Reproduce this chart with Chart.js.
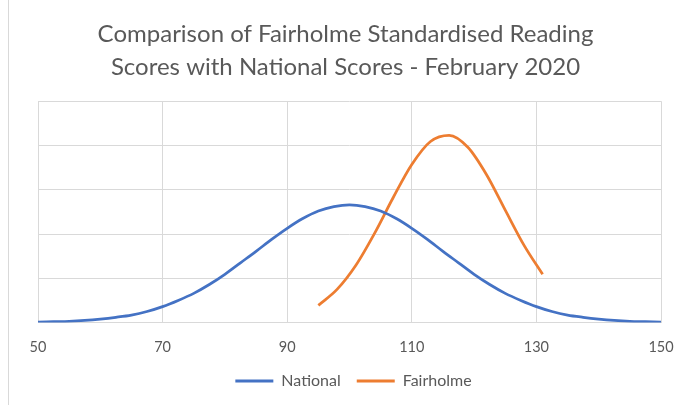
<!DOCTYPE html>
<html>
<head>
<meta charset="utf-8">
<script src="https://cdn.jsdelivr.net/npm/chart.js@4"></script>
<style>
    html, body { margin: 0; padding: 0; background: #fff; }
    #wrap { position: relative; width: 691px; height: 405px; }
    #edge { position: absolute; left: 8px; top: 0; width: 1px; height: 405px; background: #d9d9d9; }
    canvas { position: absolute; left: 0; top: 0; }
</style>
</head>
<body>
<div id="wrap">
    <div id="edge"></div>
    <canvas id="curveChart" width="691" height="405"></canvas>
</div>
<script>
// Chart data
const chartTitle = ['Comparison of Fairholme Standardised Reading', 'Scores with National Scores - February 2020'];
const xTicks = [50, 70, 90, 110, 130, 150];

const nationalScores = [50, 52.5, 55, 57.5, 60, 62.5, 65, 67.5, 70, 72.5, 75, 77.5, 80, 82.5, 85, 87.5, 90, 92.5, 95, 97.5,
    100, 102.5, 105, 107.5, 110, 112.5, 115, 117.5, 120, 122.5, 125, 127.5, 130, 132.5, 135, 137.5, 140, 142.5, 145, 147.5, 150];
const nationalValues = [0.0001, 0.0002, 0.0003, 0.0005, 0.0008, 0.0012, 0.0017, 0.0025, 0.0036, 0.0050, 0.0066, 0.0086,
    0.0109, 0.0135, 0.0161, 0.0188, 0.0213, 0.0235, 0.0252, 0.0262, 0.0266, 0.0262, 0.0252, 0.0235, 0.0213, 0.0188,
    0.0161, 0.0135, 0.0109, 0.0086, 0.0066, 0.0050, 0.0036, 0.0025, 0.0017, 0.0012, 0.0008, 0.0005, 0.0003, 0.0002, 0.0001];

const fairholmeScores = [95, 98, 101, 104, 107, 110, 113, 116, 119, 122, 125, 128, 131];
const fairholmeValues = [0.0039, 0.0075, 0.0129, 0.0201, 0.0282, 0.0357, 0.0409, 0.0423, 0.0396, 0.0334, 0.0254, 0.0175, 0.0109];

const textColor = '#595959';
const gridColor = '#d9d9d9';
const fontFamily = 'Lato, "Open Sans", sans-serif';

function toPoints(xs, ys) {
    return xs.map((x, i) => ({ x: x, y: ys[i] }));
}

// pull the legend up closer to the axis labels and a little to the right
const legendNudge = {
    id: 'legendNudge',
    afterLayout(chart) {
        const legend = chart.legend;
        if (!legend) return;
        legend.top -= 15;
        legend.bottom -= 15;
        legend.left += 8;
        legend.right += 8;
    }
};

function buildChart() {
    const ctx = document.getElementById('curveChart').getContext('2d');
    new Chart(ctx, {
        type: 'line',
        data: {
            datasets: [
                {
                    label: 'National',
                    data: toPoints(nationalScores, nationalValues),
                    borderColor: '#4472c4',
                    backgroundColor: '#4472c4',
                    borderWidth: 2.75,
                    pointRadius: 0,
                    cubicInterpolationMode: 'monotone',
                    fill: false
                },
                {
                    label: 'Fairholme',
                    data: toPoints(fairholmeScores, fairholmeValues),
                    borderColor: '#ed7d31',
                    backgroundColor: '#ed7d31',
                    borderWidth: 2.75,
                    pointRadius: 0,
                    cubicInterpolationMode: 'monotone',
                    fill: false
                }
            ]
        },
        options: {
            responsive: false,
            animation: false,
            layout: { padding: { top: 10, left: 30, right: 30, bottom: -9 } },
            plugins: {
                title: {
                    display: true,
                    text: chartTitle,
                    color: textColor,
                    font: { family: fontFamily, size: 24, weight: 'normal', lineHeight: 1.4 },
                    padding: { top: 7, bottom: 17 }
                },
                legend: {
                    position: 'bottom',
                    labels: {
                        color: textColor,
                        font: { family: fontFamily, size: 16 },
                        boxWidth: 38,
                        boxHeight: 3,
                        padding: 16,
                        generateLabels: chart => Chart.defaults.plugins.legend.labels.generateLabels(chart)
                            .map(item => ({ ...item, lineWidth: 0, fillStyle: item.strokeStyle }))
                    }
                },
                tooltip: { enabled: false }
            },
            scales: {
                x: {
                    type: 'linear',
                    min: 50,
                    max: 150,
                    afterBuildTicks: axis => { axis.ticks = xTicks.map(v => ({ value: v })); },
                    grid: { color: gridColor, drawTicks: false },
                    border: { color: gridColor },
                    ticks: { color: textColor, font: { family: fontFamily, size: 14.5 }, padding: 16, maxRotation: 0 }
                },
                y: {
                    min: 0,
                    max: 0.05,
                    afterFit: axis => { axis.width = 8; },
                    grid: { color: gridColor, drawTicks: false },
                    border: { display: false },
                    ticks: { display: false, stepSize: 0.01 }
                }
            }
        },
        plugins: [legendNudge]
    });
}

document.addEventListener('DOMContentLoaded', buildChart);
</script>
</body>
</html>
